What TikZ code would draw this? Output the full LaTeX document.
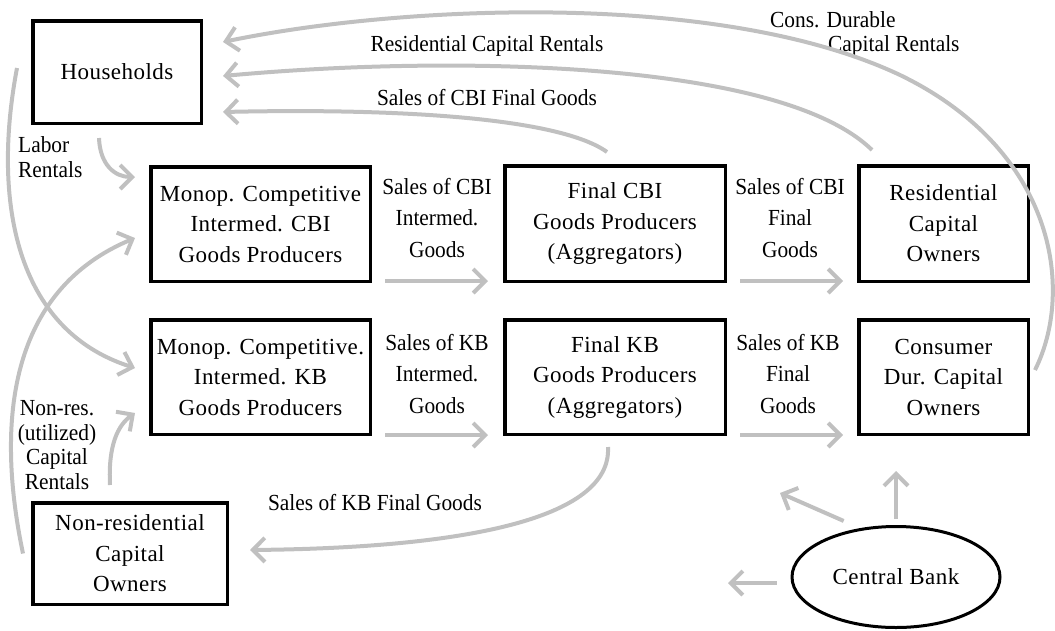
\documentclass[tikz,border=0pt]{standalone}
\usepackage{fontspec}
\setmainfont{Liberation Serif}
\newfontfamily\boxfont[LetterSpace=2]{Liberation Serif}
\newfontfamily\labelfont[FakeStretch=0.93]{Liberation Serif}
\usetikzlibrary{arrows.meta,shapes.geometric}
\definecolor{flowgray}{RGB}{192,192,192}
\begin{document}
\begin{tikzpicture}[x=1pt,y=-1pt,
        sector/.style={draw,line width=3.5pt,inner sep=0pt,align=center,font=\boxfont\fontsize{23}{30.5}\selectfont},
        flowlabel/.style={inner sep=0pt,align=center,font=\labelfont\fontsize{23}{31.5}\selectfont},
        sidelabel/.style={flowlabel,font=\labelfont\fontsize{23}{24.5}\selectfont},
        flow/.style={draw=flowgray,line width=4pt,-{Straight Barb[length=12pt,width=24pt]}}]
        \useasboundingbox (0,0) rectangle (1055,630);
        \node[sector,minimum width=168.5pt,minimum height=102.5pt] (hh) at (117,72) {Households};
        \node[sector,minimum width=219.5pt,minimum height=114.5pt] (cbiM) at (260.5,224) {Monop. Competitive\\Intermed. CBI\\Goods Producers};
        \node[sector,minimum width=220.5pt,minimum height=115.5pt] (cbiF) at (615,223.5) {Final CBI\\Goods Producers\\(Aggregators)};
        \node[sector,minimum width=169.5pt,minimum height=115.5pt] (res) at (943.5,223.5) {Residential\\Capital\\Owners};
        \node[sector,minimum width=219.5pt,minimum height=114.5pt] (kbM) at (260.5,377) {Monop. Competitive.\\Intermed. KB\\Goods Producers};
        \node[sector,minimum width=220.5pt,minimum height=114.5pt] (kbF) at (615,377) {Final KB\\Goods Producers\\(Aggregators)};
        \node[sector,minimum width=169.5pt,minimum height=114.5pt] (cdo) at (943.5,377) {Consumer\\Dur. Capital\\Owners};
        \node[sector,minimum width=194.5pt,minimum height=101.5pt] (nrc) at (130,553.5) {Non-residential\\Capital\\Owners};
        \node[sector,ellipse,line width=3pt,minimum width=208pt,minimum height=101pt] (cb) at (896,577) {Central Bank};
        \coordinate (cbW) at (728,583);
        \coordinate (cbNW) at (780,493);
        \coordinate (cbN) at (896,471);

        \node[flowlabel] (lblCbiI) at (437,218) {Sales of CBI\\Intermed.\\Goods};
        \node[flowlabel] (lblCbiF) at (790,218) {Sales of CBI\\Final\\Goods};
        \node[flowlabel] (lblKbI) at (437,374) {Sales of KB\\Intermed.\\Goods};
        \node[flowlabel] (lblKbF) at (788,374) {Sales of KB\\Final\\Goods};
        \node[sidelabel,align=left,anchor=west] (lblLab) at (18,157) {Labor\\Rentals};
        \node[sidelabel] (lblNrc) at (57,445) {Non-res.\\(utilized)\\Capital\\Rentals};
        \node[flowlabel] (lblKbSales) at (375,503) {Sales of KB Final Goods};
        \node[flowlabel] (lblCbiSales) at (487,98) {Sales of CBI Final Goods};
        \node[flowlabel] (lblRes) at (487,46) {Residential Capital Rentals};
        \node[flowlabel,anchor=west] (lblCdo1) at (770,20) {Cons. Durable};
        \node[flowlabel,anchor=west] (lblCdo2) at (828,46) {Capital Rentals};

        \draw[flow] ([xshift=13pt,yshift=2pt]cbiM.south east) -- ([xshift=-15pt,yshift=2pt]cbiF.south west);
        \draw[flow] ([xshift=13pt,yshift=2pt]cbiF.south east) -- ([xshift=-14pt,yshift=2pt]res.south west);
        \draw[flow] ([xshift=13pt,yshift=1pt]kbM.south east) -- ([xshift=-15pt,yshift=1pt]kbF.south west);
        \draw[flow] ([xshift=13pt,yshift=1pt]kbF.south east) -- ([xshift=-14pt,yshift=1pt]cdo.south west);

        \draw[flow] ([xshift=-8pt,yshift=12pt]cbiF.north) .. controls (560,118) and (400,108) .. ([xshift=20pt,yshift=13pt]hh.south east);
        \draw[flow] ([xshift=15pt,yshift=14pt]res.north west) .. controls (780,60) and (450,55) .. ([xshift=20pt,yshift=-4pt]hh.east);
        \draw[flow] ([xshift=5pt,yshift=7pt]cdo.east) .. controls (1075,290) and (1055,150) .. (900,75)
            .. controls (720,-10) and (400,5) .. ([xshift=20pt,yshift=-23pt]hh.north east);
        \draw[flow] ([xshift=-18pt,yshift=-13pt]hh.south) .. controls (100,165) and (115,177) .. ([xshift=-14pt,yshift=-12pt]cbiM.north west);
        \draw[flow] ([xshift=-14pt,yshift=4pt]hh.west) .. controls (-8,200) and (15,330) .. ([xshift=-14pt,yshift=9pt]kbM.west);
        \draw[flow] ([xshift=-8pt]nrc.west) .. controls (-5,420) and (10,290) .. ([xshift=-14pt,yshift=-14pt]cbiM.west);
        \draw[flow] ([xshift=-20pt,yshift=16pt]nrc.north) .. controls (108,445) and (118,425) .. ([xshift=-14pt,yshift=23pt]kbM.south west);
        \draw[flow] ([xshift=-7pt,yshift=-11pt]kbF.south) .. controls (612,520) and (460,548) .. ([xshift=21pt,yshift=3.5pt]nrc.east);

        \draw[flow] ([xshift=-14pt,yshift=-6pt]cb.west) -- (cbW);
        \draw[flow] ([xshift=-12pt,yshift=8pt]cb.130) -- (cbNW);
        \draw[flow] ([yshift=6pt]cb.north) -- (cbN);
\end{tikzpicture}
\end{document}
